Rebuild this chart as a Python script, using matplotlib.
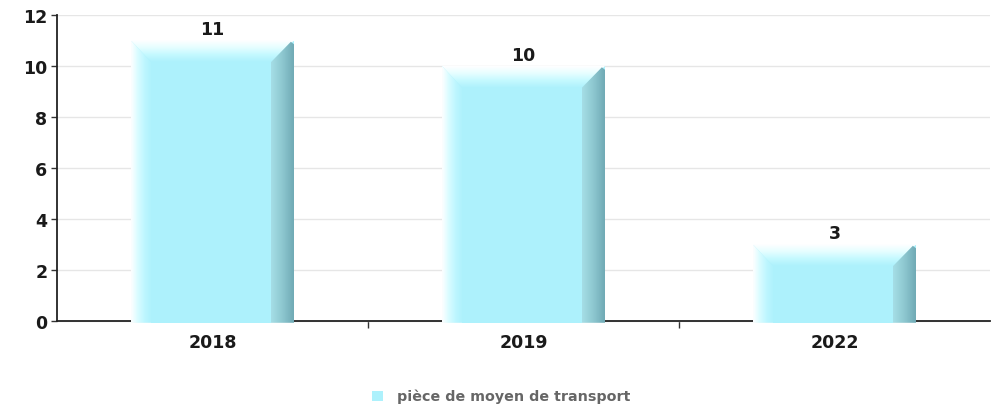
import matplotlib
matplotlib.use("Agg")
import matplotlib.pyplot as plt
import numpy as np
from matplotlib.patches import Polygon
from matplotlib.colors import LinearSegmentedColormap

categories = ["2018", "2019", "2022"]
values = [11, 10, 3]
series_name = "pièce de moyen de transport"
yticks = [0, 2, 4, 6, 8, 10, 12]

W, H = 998, 406
yb = -0.07  # bars reach just below the baseline, hiding it
px_per_unit = 306 / 12
fig = plt.figure(figsize=(W / 100, H / 100), dpi=100)
bottom_px = 322 - yb * px_per_unit
ax = fig.add_axes([57 / W, (H - bottom_px) / H, (990 - 57) / W, (bottom_px - 16) / H])

for s in ["top", "right"]:
    ax.spines[s].set_visible(False)
ax.spines["bottom"].set_position(("data", 0))
for s in ["left", "bottom"]:
    ax.spines[s].set_color("#222222")
    ax.spines[s].set_linewidth(1.3)
    ax.spines[s].set_zorder(2)

face = "#adf1fc"
x = np.arange(len(categories))
bars = ax.bar(x, values, width=0.524, color=face, zorder=3, linewidth=0)

ax.set_xlim(-0.5, len(categories) - 0.5)
ax.set_ylim(yb, 12)
ax.spines["left"].set_bounds(0, 12)

# bevel sizes
bxl = 0.065
bxr = 0.074
by = 0.85

def grad_image(x0, x1, y0, y1, colors, horizontal, clip):
    cmap = LinearSegmentedColormap.from_list("g", colors)
    g = np.linspace(0, 1, 256)
    data = g[None, :] if horizontal else g[:, None]
    im = ax.imshow(data, cmap=cmap, extent=[x0, x1, y0, y1], origin="lower",
                   aspect="auto", zorder=4, interpolation="bilinear")
    im.set_clip_path(clip)

for b in bars:
    x0 = b.get_x()
    x1 = x0 + b.get_width()
    top = b.get_height()
    il, ir, it = x0 + bxl, x1 - bxr, top - by
    mp = Polygon([(il, it), (ir, it), (ir, yb), (il, yb)], closed=True,
                 facecolor=face, edgecolor="none", zorder=3)
    ax.add_patch(mp)
    # left face
    lp = Polygon([(x0, top), (il, it), (il, yb), (x0, yb)], closed=True,
                 facecolor="none", edgecolor="none", transform=ax.transData)
    ax.add_patch(lp)
    grad_image(x0, il, yb, top, ["#ffffff", "#d8fcff", "#bdf6ff", face], True, lp)
    # top face
    tp = Polygon([(x0, top), (x1, top), (ir, it), (il, it)], closed=True,
                 facecolor="none", edgecolor="none", transform=ax.transData)
    ax.add_patch(tp)
    grad_image(x0, x1, it, top, [face, "#c4f9ff", "#e6feff", "#ffffff"], False, tp)
    # right face
    rp = Polygon([(ir, it), (x1 - 0.01, top - 0.05), (x1, top - 0.15), (x1, yb), (ir, yb)],
                 closed=True, facecolor="none", edgecolor="none",
                 transform=ax.transData)
    ax.add_patch(rp)
    grad_image(ir, x1, yb, top, ["#a6dee6", "#8cc6cf", "#6da7b2"], True, rp)
    ax.annotate(str(int(top)), (b.get_x() + b.get_width() / 2, top),
                xytext=(0, 8), textcoords="offset points",
                ha="center", va="center", fontsize=12.5, fontweight="bold",
                color="#1a1a1a", zorder=5)

ax.set_yticks(yticks)
ax.set_yticklabels([str(t) for t in yticks], fontsize=12.5, fontweight="bold",
                   color="#1a1a1a")
ax.set_xticks(x)
ax.set_xticklabels(categories, fontsize=12.5, fontweight="bold", color="#1a1a1a")
ax.tick_params(axis="x", which="major", length=0, pad=9)
ax.set_xticks(np.arange(0.5, len(categories) - 0.5, 1), minor=True)
ax.tick_params(axis="x", which="minor", length=5, width=1, color="#333333",
               direction="out")
ax.tick_params(axis="y", length=4, width=1, color="#333333", pad=3)

ax.grid(axis="y", color="#e6e6e6", linewidth=1, zorder=0)
ax.set_axisbelow(True)

# legend
fig.patches.append(plt.Rectangle((372 / W, (H - 402) / H), 11 / W, 10 / H,
                                 transform=fig.transFigure, facecolor=face,
                                 edgecolor="none"))
fig.text(397 / W, (H - 396.5) / H, series_name, fontsize=10.3, fontweight="bold",
         color="#666666", va="center", ha="left")

fig.savefig("out.png", dpi=100)
